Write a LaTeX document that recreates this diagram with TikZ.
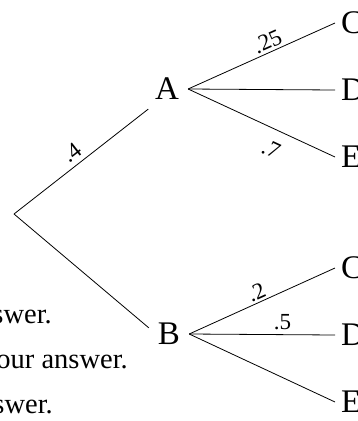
\documentclass[tikz,border=0pt]{standalone}
\usepackage{fontspec}
\setmainfont{Liberation Serif}
\usetikzlibrary{positioning}

\begin{document}
\begin{tikzpicture}[x=1pt, y=-1pt,
    branch/.style={line width=0.8pt},
    outcome/.style={inner sep=9pt, font=\fontsize{33}{36}\selectfont},
    leaf/.style={anchor=west, inner ysep=0pt, inner xsep=6pt,
                 font=\fontsize{33}{36}\selectfont},
    prob/.style={inner sep=2pt, font=\fontsize{23}{24}\selectfont},
    cuttext/.style={anchor=base east, inner sep=0pt,
                    font=\fontsize{28.5}{32}\selectfont}]

    \useasboundingbox (0,0) rectangle (358,421);

    %% ── root and first split ─────────────────────────
    \coordinate (root) at (14,214);
    \node[outcome] (A) at (167,89) {A};
    \node[outcome] (B) at (169,334) {B};

    \draw[branch] (root) --
      node[prob, sloped, above=2.5pt, pos=0.49] (pA) {.4} (A.227);
    \draw[branch] (root) -- (B.163);

    %% ── leaves C, D, E after A and after B ───────────
    \foreach \pp/\yy in {A/23, B/268}{
      \node[leaf] (\pp C) at (335,\yy) {C};
      \node[leaf] (\pp D) at (335,\yy+67) {D};
      \node[leaf] (\pp E) at (335,\yy+134) {E};
    }

    %% ── second split ─────────────────────────────────
    \draw[branch] (A.east) --
      node[prob, sloped, above=0.7pt, pos=0.57] (pAC) {.25} (AC.west);
    \draw[branch] (A.east) -- (AD.west);
    \draw[branch] (A.east) --
      node[prob, sloped, below=9.5pt, pos=0.62] (pAE) {.7} (AE.west);

    \draw[branch] (B.east) --
      node[prob, sloped, above=0pt, pos=0.49] (pBC) {.2} (BC.west);
    \draw[branch] (B.east) --
      node[prob, above=2pt, pos=0.64] (pBD) {.5} (BD.west);
    \draw[branch] (B.east) -- (BE.west);

    %% text cut off at the left edge
    \node[cuttext] (t1) at (52,323) {swer.};
    \node[cuttext] (t2) at (128,368) {our answer.};
    \node[cuttext] (t3) at (53,413) {swer.};

\end{tikzpicture}
\end{document}
